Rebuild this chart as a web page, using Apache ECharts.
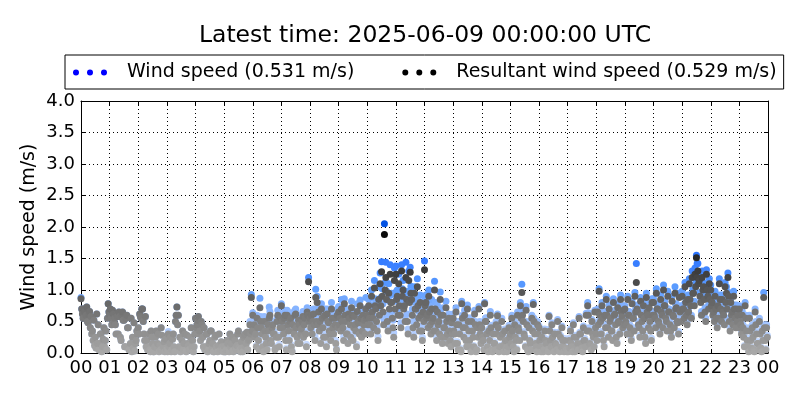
<!DOCTYPE html>
<html>
<head>
<meta charset="utf-8">
<script src="https://cdn.jsdelivr.net/npm/echarts@6/dist/echarts.min.js"></script>
<style>html,body{margin:0;padding:0;background:#fff;}#c{width:800px;height:400px;}</style>
</head>
<body>
<div id="c"></div>
<script>
// Sampling step of the series (minutes) – 40 samples per hour
var sampleMinutes = 1.5;
var titleText = 'Latest time: 2025-06-09 00:00:00 UTC';
var seriesNames = ['Wind speed (0.531 m/s)', 'Resultant wind speed (0.529 m/s)'];
var yTicks = [0, 0.5, 1, 1.5, 2, 2.5, 3, 3.5, 4];
var xTickLabels = ['00','01','02','03','04','05','06','07','08','09','10','11','12','13','14','15','16','17','18','19','20','21','22','23','00'];

// Wind speed (m/s), hour by hour
var windSpeed = [
/*00*/ .88,.70,.62,.55,.70,.66,.55,.60,.73,.50,.48,.62,.66,.40,.58,.30,.35,.20,.52,.12,.25,.08,.62,.15,.45,.05,.15,.30,.30,.02,.10,.22,.40,.10,.20,.35,.05,.55,.78,.65,
/*01*/ .60,.70,.55,.45,.68,.62,.50,.55,.45,.30,.62,.58,.30,.65,.58,.25,.20,.60,.65,.52,.52,.10,.10,.55,.60,.40,.40,.05,.05,.15,.55,.02,.25,.08,.48,.03,.15,.20,.35,.30,
/*02*/ .40,.30,.62,.58,.55,.70,.70,.50,.30,.20,.58,.10,.20,.05,.10,.30,.05,.02,.35,.25,.15,.02,.02,.10,.25,.35,.08,.15,.30,.02,.12,.05,.40,.28,.03,.10,.18,.02,.22,.08,
/*03*/ .08,.02,.34,.10,.15,.25,.02,.05,.22,.30,.10,.02,.50,.60,.73,.45,.60,.10,.25,.02,.08,.20,.35,.05,.15,.30,.03,.02,.28,.15,.12,.05,.05,.25,.40,.10,.20,.02,.10,.30,
/*04*/ .55,.40,.45,.52,.58,.30,.35,.20,.50,.45,.25,.10,.40,.05,.10,.30,.30,.02,.05,.15,.20,.35,.35,.08,.15,.02,.02,.25,.28,.10,.08,.02,.12,.30,.03,.05,.18,.10,.05,.02,
/*05*/ .10,.02,.02,.05,.20,.15,.05,.02,.30,.10,.15,.25,.03,.02,.25,.20,.08,.05,.12,.30,.35,.10,.05,.02,.18,.08,.02,.25,.28,.30,.10,.15,.33,.05,.24,.22,.50,.30,.93,.38,
/*06*/ .64,.40,.52,.30,.33,.12,.60,.46,.24,.08,.87,.58,.46,.34,.14,.04,.58,.40,.28,.20,.08,.48,.38,.73,.66,.24,.20,.48,.50,.34,.34,.08,.10,.28,.56,.68,.28,.14,.45,.62,
/*07*/ .78,.58,.48,.34,.60,.68,.25,.08,.68,.52,.40,.24,.62,.64,.13,.04,.55,.40,.34,.68,.70,.48,.30,.20,.60,.52,.20,.34,.42,.58,.66,.30,.52,.62,.34,.14,.72,.68,1.20,.58,
/*08*/ .62,.48,.68,.36,.55,.70,.52,.26,1.01,.58,.90,.52,.72,.42,.58,.20,.78,.64,.46,.30,.68,.70,.30,.14,.70,.58,.55,.42,.36,.26,.80,.64,.48,.36,.62,.54,.20,.08,.70,.48,
/*09*/ .74,.54,.62,.42,.85,.60,.48,.26,.86,.70,.60,.36,.36,.20,.70,.64,.56,.30,.82,.70,.28,.48,.66,.52,.42,.14,.78,.60,.56,.36,.84,.64,.32,.42,.70,.54,.60,.36,.88,.64,
/*10*/ .72,.55,.85,.66,.55,.36,1.00,.76,.68,.48,1.15,.86,.80,.58,.42,.26,1.05,.72,1.27,.88,1.45,1.02,.78,.54,2.05,1.12,1.44,.98,.60,.42,1.10,.82,1.40,.92,.95,.66,.52,.32,1.35,.82,
/*11*/ 1.38,.98,1.00,.70,1.25,.86,.72,.48,1.40,1.02,1.15,.82,.88,.58,1.44,.98,.62,.38,1.30,.92,1.36,1.06,.98,.70,.50,.30,1.05,.80,.85,.55,1.18,.86,.66,.42,.92,.70,.42,.25,.80,.58,
/*12*/ 1.46,.86,.92,.64,.70,.48,1.00,.76,.55,.36,.85,.60,.62,.42,1.14,.80,.42,.25,.76,.54,.58,.36,.97,.70,.30,.18,.72,.48,.46,.30,.82,.58,.36,.20,.62,.42,.25,.12,.55,.36,
/*13*/ .62,.40,.34,.18,.72,.50,.18,.07,.50,.34,.08,.04,.82,.60,.44,.28,.68,.45,.24,.12,.76,.56,.40,.24,.12,.04,.56,.40,.28,.12,.68,.50,.04,.07,.44,.28,.74,.50,.33,.18,
/*14*/ .44,.28,.24,.07,.80,.55,.56,.34,.12,.04,.38,.23,.66,.44,.07,.04,.33,.18,.18,.07,.50,.34,.62,.45,.04,.12,.28,.12,.55,.34,.14,.04,.38,.23,.10,.04,.23,.12,.44,.28,
/*15*/ .33,.18,.60,.40,.12,.04,.50,.28,.24,.07,.65,.45,.40,.24,.80,.60,1.09,.66,.70,.34,.28,.12,.74,.50,.07,.04,.44,.23,.18,.07,.60,.40,.80,.55,.34,.18,.12,.04,.50,.34,
/*16*/ .43,.23,.12,.04,.28,.12,.04,.07,.38,.23,.18,.07,.07,.04,.60,.38,.23,.12,.48,.28,.10,.04,.33,.18,.14,.07,.53,.33,.05,.04,.28,.12,.43,.23,.12,.04,.23,.10,.07,.04,
/*17*/ .07,.04,.23,.10,.38,.18,.12,.04,.48,.28,.04,.07,.28,.12,.18,.07,.58,.33,.33,.18,.10,.04,.43,.23,.23,.12,.63,.38,.80,.64,.40,.18,.15,.07,.53,.33,.28,.12,.68,.44,
/*18*/ .34,.24,.70,.50,1.02,.66,.55,.34,.80,.60,.24,.13,.66,.45,.90,.66,.44,.28,.76,.55,.62,.40,.40,.24,.86,.66,.68,.50,.28,.18,.78,.55,.55,.34,.92,.70,.64,.45,.75,.50,
/*19*/ .75,.55,.50,.34,.90,.66,.66,.45,.34,.24,.82,.60,.60,.40,.96,.70,1.42,.76,.72,.50,.45,.28,.88,.66,.56,.40,.80,.60,.28,.18,.95,.70,.66,.45,.78,.55,.40,.24,.86,.66,
/*20*/ .86,.66,.60,.45,1.02,.76,.78,.55,.50,.34,.92,.70,.66,.45,1.08,.82,.82,.60,.56,.40,.98,.70,.70,.50,.40,.28,.90,.66,.64,.45,1.05,.76,.78,.55,.54,.34,.95,.70,.74,.55,
/*21*/ .98,.76,.76,.60,1.12,.86,.66,.50,.92,.70,1.18,.92,.82,.60,1.30,1.02,1.02,.82,1.35,1.12,1.55,1.42,1.42,1.18,1.22,.96,.88,.66,1.30,1.08,1.12,.92,.72,.55,1.32,1.06,.98,.76,1.18,.92,
/*22*/ 1.08,.82,.86,.66,.72,.55,.98,.76,.62,.45,.82,.60,1.18,.92,.78,.55,.92,.70,.66,.50,1.12,.86,1.05,.76,1.27,.96,.56,.40,.86,.66,.72,.50,.98,.76,.60,.45,.76,.55,.66,.45,
/*23*/ .75,.55,.50,.34,.66,.45,.28,.12,.80,.60,.40,.24,.12,.04,.60,.40,.24,.10,.45,.28,.07,.04,.70,.50,.34,.18,.18,.07,.55,.34,.10,.04,.40,.24,.96,.45,.24,.07,.45,.28
];

// Resultant wind speed (m/s), hour by hour
var resultant = [
/*00*/ .86,.70,.62,.55,.70,.66,.55,.60,.73,.50,.48,.62,.66,.40,.58,.30,.35,.20,.52,.12,.25,.08,.62,.15,.45,.05,.15,.30,.30,.02,.10,.22,.40,.10,.20,.35,.05,.55,.78,.65,
/*01*/ .60,.70,.55,.45,.68,.62,.50,.55,.45,.30,.62,.58,.30,.65,.58,.25,.20,.60,.65,.52,.52,.10,.10,.55,.60,.40,.40,.05,.05,.15,.55,.02,.25,.08,.48,.03,.15,.20,.35,.30,
/*02*/ .40,.30,.62,.58,.55,.70,.70,.50,.30,.20,.58,.10,.20,.05,.10,.30,.05,.02,.35,.25,.15,.02,.02,.10,.25,.35,.08,.15,.30,.02,.12,.05,.40,.28,.03,.10,.18,.02,.22,.08,
/*03*/ .05,.02,.30,.10,.15,.25,.02,.05,.22,.30,.10,.02,.50,.60,.73,.45,.60,.10,.25,.02,.08,.20,.35,.05,.15,.30,.03,.02,.28,.15,.12,.05,.05,.25,.40,.10,.20,.02,.10,.30,
/*04*/ .55,.40,.45,.52,.58,.30,.35,.20,.50,.45,.25,.10,.40,.05,.10,.30,.30,.02,.05,.15,.20,.35,.35,.08,.15,.02,.02,.25,.28,.10,.08,.02,.12,.30,.03,.05,.18,.10,.05,.02,
/*05*/ .10,.02,.02,.05,.20,.15,.05,.02,.30,.10,.15,.25,.03,.02,.25,.20,.08,.05,.12,.30,.35,.10,.05,.02,.18,.08,.02,.25,.28,.30,.10,.15,.33,.05,.20,.22,.45,.30,.88,.35,
/*06*/ .60,.35,.45,.25,.30,.10,.55,.40,.20,.05,.72,.50,.40,.30,.10,.02,.50,.35,.25,.15,.05,.45,.35,.55,.60,.20,.15,.40,.45,.30,.30,.05,.08,.25,.50,.60,.25,.10,.40,.55,
/*07*/ .75,.50,.40,.30,.55,.60,.20,.05,.60,.45,.35,.20,.50,.55,.10,.02,.45,.35,.30,.60,.62,.40,.25,.15,.52,.45,.15,.30,.38,.50,.58,.25,.45,.55,.30,.10,.65,.60,1.13,.50,
/*08*/ .55,.40,.60,.30,.50,.62,.45,.20,.88,.50,.80,.45,.65,.35,.50,.15,.70,.55,.40,.25,.58,.60,.25,.10,.62,.50,.48,.35,.30,.20,.70,.55,.40,.30,.55,.45,.15,.05,.60,.40,
/*09*/ .65,.45,.55,.35,.70,.50,.40,.20,.78,.60,.50,.30,.30,.15,.62,.55,.45,.25,.72,.60,.20,.40,.58,.45,.35,.10,.66,.50,.48,.30,.75,.55,.25,.35,.60,.45,.52,.30,.70,.55,
/*10*/ .60,.45,.75,.55,.45,.30,.90,.65,.55,.40,1.03,.75,.70,.50,.35,.20,.85,.60,1.10,.75,1.29,.90,.65,.45,1.88,1.00,1.20,.85,.50,.35,.95,.70,1.25,.80,.80,.55,.40,.25,1.15,.70,
/*11*/ 1.25,.85,.90,.60,1.10,.75,.60,.40,1.30,.90,1.00,.70,.75,.50,1.20,.85,.50,.30,1.15,.80,1.28,.95,.85,.60,.40,.25,.95,.70,.70,.45,1.05,.75,.55,.35,.80,.60,.35,.20,.65,.50,
/*12*/ 1.32,.75,.80,.55,.60,.40,.90,.65,.45,.30,.70,.50,.55,.35,1.00,.70,.35,.20,.65,.45,.50,.30,.85,.60,.25,.15,.60,.40,.40,.25,.72,.50,.30,.15,.55,.35,.20,.10,.48,.30,
/*13*/ .55,.35,.30,.15,.65,.45,.15,.05,.45,.30,.05,.02,.78,.55,.40,.25,.60,.40,.20,.10,.70,.50,.35,.20,.10,.02,.50,.35,.25,.10,.62,.45,.02,.05,.40,.25,.70,.45,.30,.15,
/*14*/ .40,.25,.20,.05,.78,.50,.50,.30,.10,.02,.35,.20,.60,.40,.05,.02,.30,.15,.15,.05,.45,.30,.59,.40,.02,.10,.25,.10,.50,.30,.12,.02,.35,.20,.08,.02,.20,.10,.40,.25,
/*15*/ .30,.15,.55,.35,.10,.02,.45,.25,.20,.05,.60,.40,.35,.20,.75,.55,.96,.60,.50,.30,.25,.10,.68,.45,.05,.02,.40,.20,.15,.05,.55,.35,.77,.50,.30,.15,.10,.02,.45,.30,
/*16*/ .40,.20,.10,.02,.25,.10,.02,.05,.35,.20,.15,.05,.05,.02,.58,.35,.20,.10,.45,.25,.08,.02,.30,.15,.12,.05,.50,.30,.03,.02,.25,.10,.40,.20,.10,.02,.20,.08,.05,.02,
/*17*/ .05,.02,.20,.08,.35,.15,.10,.02,.45,.25,.02,.05,.25,.10,.15,.05,.55,.30,.30,.15,.08,.02,.40,.20,.20,.10,.60,.35,.75,.60,.35,.15,.12,.05,.50,.30,.25,.10,.65,.40,
/*18*/ .30,.20,.65,.45,.98,.60,.50,.30,.75,.55,.20,.10,.60,.40,.85,.60,.40,.25,.70,.50,.55,.35,.35,.20,.80,.60,.62,.45,.25,.15,.72,.50,.48,.30,.85,.65,.58,.40,.68,.45,
/*19*/ .70,.50,.45,.30,.85,.60,.60,.40,.30,.20,.78,.55,.55,.35,.90,.65,1.12,.70,.65,.45,.40,.25,.82,.60,.50,.35,.75,.55,.25,.15,.88,.65,.60,.40,.72,.50,.35,.20,.80,.60,
/*20*/ .80,.60,.55,.40,.95,.70,.70,.50,.45,.30,.85,.65,.60,.40,1.00,.75,.75,.55,.50,.35,.90,.65,.65,.45,.35,.25,.82,.60,.58,.40,.95,.70,.72,.50,.48,.30,.88,.65,.68,.50,
/*21*/ .90,.70,.70,.55,1.05,.80,.60,.45,.85,.65,1.10,.85,.75,.55,1.20,.95,.95,.75,1.25,1.05,1.51,1.20,1.30,1.10,1.15,.90,.80,.60,1.20,1.00,1.05,.85,.65,.50,1.25,1.00,.90,.70,1.10,.85,
/*22*/ 1.00,.75,.80,.60,.65,.50,.90,.70,.55,.40,.75,.55,1.10,.85,.70,.50,.85,.65,.60,.45,1.05,.80,.95,.70,1.20,.90,.50,.35,.80,.60,.65,.45,.90,.70,.55,.40,.70,.50,.60,.40,
/*23*/ .70,.50,.45,.30,.60,.40,.25,.10,.75,.55,.35,.20,.10,.02,.55,.35,.20,.08,.40,.25,.05,.02,.65,.45,.30,.15,.15,.05,.50,.30,.08,.02,.35,.20,.88,.40,.20,.05,.40,.25
];

function toPoints(vals) {
  return vals.map(function (v, i) { return [i * sampleMinutes / 60, v]; });
}

var FONT = 'DejaVu Sans';
var dots = 'path://M0,3a3,3 0 1,0 6,0a3,3 0 1,0 -6,0zM14,3a3,3 0 1,0 6,0a3,3 0 1,0 -6,0zM28,3a3,3 0 1,0 6,0a3,3 0 1,0 -6,0z';
var gridLine = { show: true, lineStyle: { color: '#000', width: 1, type: [1, 3] } };

var chart = echarts.init(document.getElementById('c'), null, { renderer: 'canvas' });
chart.setOption({
  animation: false,
  backgroundColor: '#fff',
  title: {
    text: titleText, left: 420, top: 19, textAlign: 'center',
    textStyle: { fontFamily: FONT, fontSize: 23.5, fontWeight: 'normal', color: '#000' }
  },
  legend: {
    left: 65, top: 55, padding: [8, 7, 7, 8], itemGap: 48,
    borderColor: '#000', borderWidth: 1,
    itemWidth: 34, itemHeight: 6,
    textStyle: { fontFamily: FONT, fontSize: 19, color: '#000', padding: [0, 0, 0, 15] },
    data: [
      { name: seriesNames[0], icon: dots, itemStyle: { color: '#0000ff' } },
      { name: seriesNames[1], icon: dots, itemStyle: { color: '#000000' } }
    ]
  },
  grid: { left: 81, right: 32, top: 101, bottom: 47 },
  xAxis: [{
    type: 'value', min: 0, max: 24, interval: 1,
    axisLine: { show: true, onZero: false, lineStyle: { color: '#000', width: 1 } },
    axisTick: { show: true, inside: true, length: 4, lineStyle: { color: '#000' } },
    axisLabel: { fontFamily: FONT, fontSize: 18, color: '#000', margin: 6,
      formatter: function (v) { return xTickLabels[Math.round(v)]; } },
    splitLine: gridLine
  }, {
    type: 'value', min: 0, max: 24, interval: 1, position: 'top',
    axisLine: { show: true, onZero: false, lineStyle: { color: '#000', width: 1 } },
    axisTick: { show: true, inside: true, length: 4, lineStyle: { color: '#000' } },
    axisLabel: { show: false }, splitLine: { show: false }
  }],
  yAxis: [{
    type: 'value', min: yTicks[0], max: yTicks[yTicks.length - 1], interval: 0.5,
    name: 'Wind speed (m/s)', nameLocation: 'middle', nameGap: 42, nameRotate: 90,
    nameMoveOverlap: false,
    nameTextStyle: { fontFamily: FONT, fontSize: 19, color: '#000' },
    axisLine: { show: true, onZero: false, lineStyle: { color: '#000', width: 1 } },
    axisTick: { show: true, inside: true, length: 4, lineStyle: { color: '#000' } },
    axisLabel: { fontFamily: FONT, fontSize: 18, color: '#000', margin: 6,
      formatter: function (v) { return v.toFixed(1); } },
    splitLine: gridLine
  }, {
    type: 'value', min: yTicks[0], max: yTicks[yTicks.length - 1], interval: 0.5, position: 'right',
    axisLine: { show: true, onZero: false, lineStyle: { color: '#000', width: 1 } },
    axisTick: { show: true, inside: true, length: 4, lineStyle: { color: '#000' } },
    axisLabel: { show: false }, splitLine: { show: false }
  }],
  visualMap: [{
    show: false, type: 'continuous', seriesIndex: 0, dimension: 1, min: 0, max: 2.1,
    inRange: { color: ['#d6e4ff', '#9cc0ff', '#5a9bff', '#2a72ff', '#0050e0'] }
  }, {
    show: false, type: 'continuous', seriesIndex: 1, dimension: 1, min: 0, max: 2,
    inRange: { color: ['#aaaaaa', '#000000'] }
  }],
  series: [{
    name: seriesNames[0], type: 'scatter', symbol: 'circle', symbolSize: 7,
    itemStyle: { color: '#0000ff', opacity: 1 },
    data: toPoints(windSpeed)
  }, {
    name: seriesNames[1], type: 'scatter', symbol: 'circle', symbolSize: 7,
    itemStyle: { color: '#000000', opacity: 1 },
    data: toPoints(resultant)
  }]
});
</script>
</body>
</html>
